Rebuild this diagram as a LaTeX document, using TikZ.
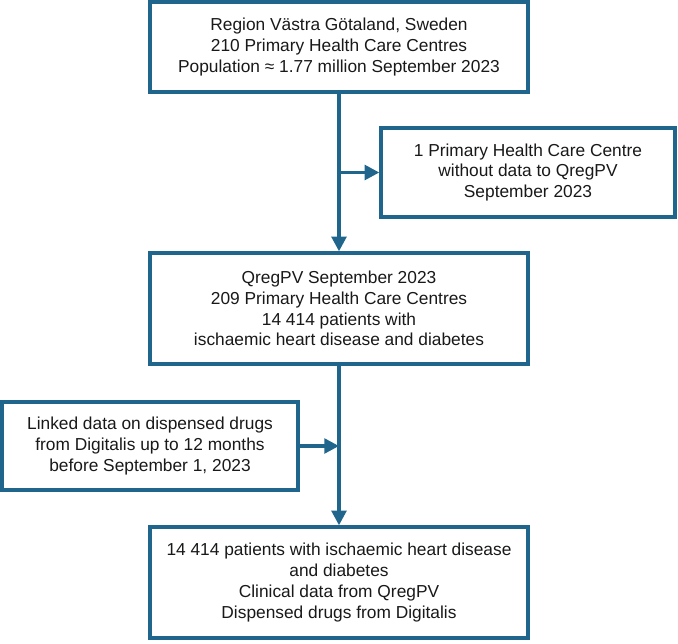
\documentclass[tikz,border=0pt]{standalone}
\usepackage{fontspec}
\setmainfont{Liberation Sans}
\usetikzlibrary{arrows.meta}
\definecolor{flowblue}{RGB}{31,101,140}
\begin{document}
\begin{tikzpicture}[x=0.75pt,y=-0.75pt,
  flowbox/.style={draw=flowblue,line width=2.5pt,fill=white,align=center,
    font=\fontsize{13}{15.6}\selectfont,inner sep=0pt,text=black!90},
  flowline/.style={draw=flowblue,line width=2.5pt},
  flowarrow/.style={flowline,-{Triangle[length=11pt,width=11pt]}}]
\useasboundingbox (0,0) rectangle (678,643);
\node[flowbox,minimum width=378*0.75pt,minimum height=90*0.75pt] (b1) at (339,47)
  {Region Västra Götaland, Sweden\\210 Primary Health Care Centres\\Population ≈ 1.77 million September 2023};
\node[flowbox,minimum width=294*0.75pt,minimum height=89*0.75pt] (b2) at (528,172.5)
  {1 Primary Health Care Centre\\without data to QregPV\\September 2023};
\node[flowbox,minimum width=378*0.75pt,minimum height=111*0.75pt] (b3) at (339,308.5)
  {QregPV September 2023\\209 Primary Health Care Centres\\14 414 patients with\\ischaemic heart disease and diabetes};
\node[flowbox,minimum width=296*0.75pt,minimum height=88*0.75pt] (b4) at (150,446)
  {Linked data on dispensed drugs\\from Digitalis up to 12 months\\before September 1, 2023};
\node[flowbox,minimum width=378*0.75pt,minimum height=111*0.75pt] (b5) at (339,582.5)
  {14 414 patients with ischaemic heart disease\\and diabetes\\Clinical data from QregPV\\Dispensed drugs from Digitalis};
\draw[flowarrow] (b1.south) -- (b3.north);
\draw[flowarrow] (b1.south |- b2.west) -- (b2.west);
\draw[flowarrow] (b3.south) -- (b5.north);
\draw[flowarrow] (b4.east) -- (b3.south |- b4.east);
\end{tikzpicture}
\end{document}
